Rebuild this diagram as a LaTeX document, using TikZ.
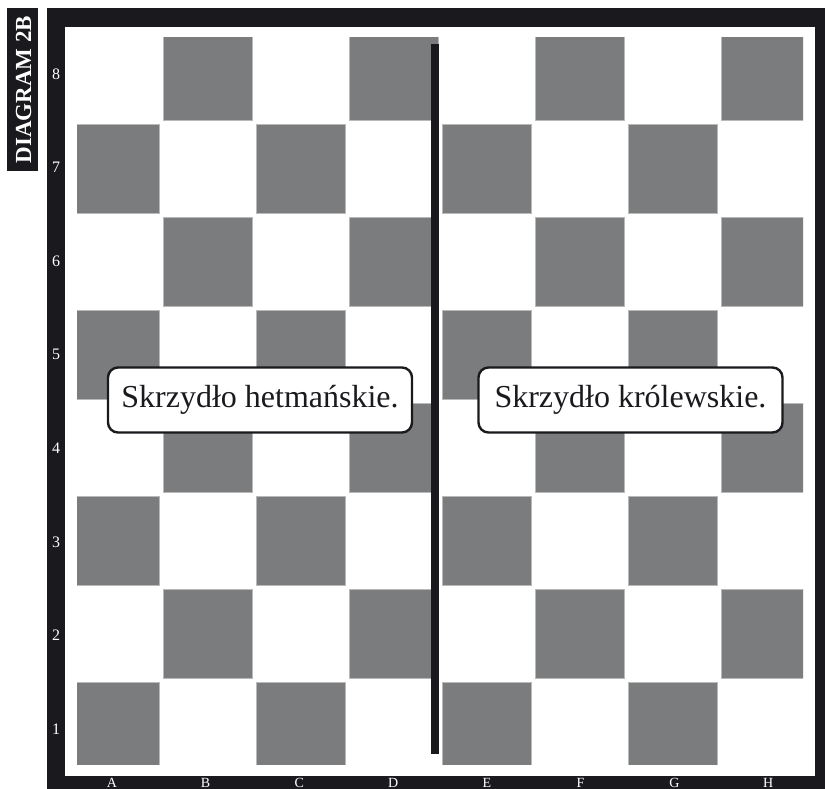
\documentclass[tikz,border=0pt]{standalone}
\usepackage{fontspec}
\setmainfont{Liberation Serif}
\usepackage{tikz}
\definecolor{frameblack}{HTML}{1A191D}
\definecolor{squaregray}{HTML}{7B7C7D}
\tikzset
{
  darksquare/.style={fill=squaregray,draw=gray!55,line width=0.6pt},
  wingbox/.style={draw=frameblack,line width=2.4pt,fill=white,rounded corners=10pt,minimum width=304pt,minimum height=65pt,inner sep=0pt,text=frameblack,font=\fontsize{32}{38}\selectfont},
  coordlabel/.style={text=white,font=\fontsize{16}{19}\selectfont,inner sep=0pt}
}

\begin{document}
\begin{tikzpicture}[x=1pt,y=-1pt]
    \useasboundingbox (0,0) rectangle (825,789);

    % Draw frame and board
    \fill[frameblack] (47,8) rectangle (825,789);
    \fill[white] (65,27) rectangle (815,776);

    % Diagram tag
    \fill[frameblack] (7,8) rectangle (38,171);
    \node[rotate=90,text=white,font=\bfseries\fontsize{23}{28}\selectfont] (tag) at (23.5,89.5) {DIAGRAM 2B};

    % Dark squares
    \begin{scope}
        \clip (77,38) rectangle (803,764);
        \foreach \i in {0,...,7}
            \foreach \j in {0,...,7}
            {
                \pgfmathparse{int(mod(\i+\j,2))}
                \ifnum\pgfmathresult=1
                    \draw[darksquare] ({70+93*\i},{31+93*\j}) rectangle ++(89,89);
                \fi
            }
    \end{scope}

    % Files and ranks
    \foreach \f [count=\i from 0] in {A,...,H}
        \node[coordlabel,anchor=base,font=\fontsize{14}{17}\selectfont] (file\f) at ({111.875+93.75*\i},787.5) {\f};
    \foreach \r in {1,...,8}
        \node[coordlabel] (rank\r) at (56,{73.8+93.625*(8-\r)}) {\r};

    % Dividing line
    \coordinate (divtop) at (435,44);
    \coordinate (divbot) at (435,754);
    \draw[frameblack,line width=8pt] (divtop) -- (divbot);

    % Wing labels
    \node[wingbox] (queenside) at (260,400) {Skrzydło hetmańskie.};
    \node[wingbox] (kingside) at (630.5,400) {Skrzydło królewskie.};
\end{tikzpicture}
\end{document}
